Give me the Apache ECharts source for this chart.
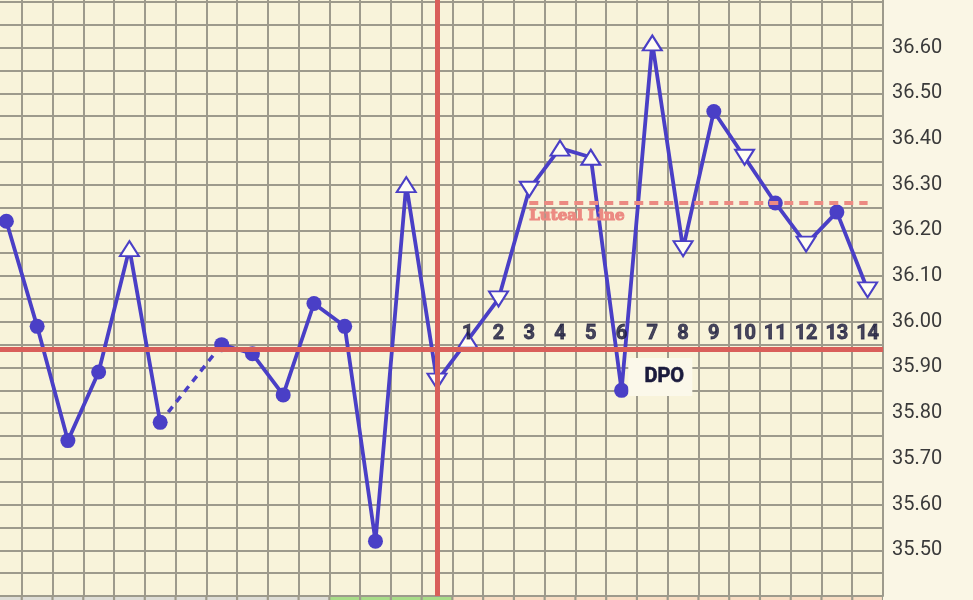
<!DOCTYPE html>
<html>
<head>
<meta charset="utf-8">
<script src="https://cdn.jsdelivr.net/npm/echarts/dist/echarts.min.js"></script>
<style>
  html, body { margin: 0; padding: 0; background: #faf6e5; }
  #chart { width: 973px; height: 600px; }
</style>
</head>
<body>
<div id="chart"></div>
<script>
// ---- data ----
const days = ['15','16','17','18','19','20','21','22','23','24','25','26','27','28','29',
              '30','31','32','33','34','35','36','37','38','39','40','41','42','43'];
const temps = [36.22, 35.99, 35.74, 35.89, 36.16, 35.78, null, 35.95, 35.93, 35.84,
               36.04, 35.99, 35.52, 36.30, 35.87, 35.96, 36.05, 36.29, 36.38, 36.36,
               35.85, 36.61, 36.16, 36.46, 36.36, 36.26, 36.17, 36.24, 36.07];
const markers = ['dot','dot','dot','dot','up','dot',null,'dot','dot','dot',
                 'dot','dot','dot','up','down','up','down','down','up','up',
                 'dot','up','down','dot','down','dot','down','dot','down'];
const phases = ['none','none','none','none','none','none','none','none','none','none',
                'none','fertile','fertile','fertile','fertile','luteal','luteal','luteal','luteal','luteal',
                'luteal','luteal','luteal','luteal','luteal','luteal','luteal','luteal','luteal'];
const ovulationDay = 14;          // index into days
const coverline = 35.94;
const lutealLine = 36.26;
const lutealStart = 17, lutealEnd = 28;
const dpoLabels = ['1','2','3','4','5','6','7','8','9','10','11','12','13','14'];
const yTicksMin = 35.40, yTicksMax = 36.75, yStep = 0.05;

// ---- styles ----
const PURPLE = '#4a3fc6';
const RED = '#d95f5a';
const GRIDC = '#9d9a8c';
const phaseColors = { none: '#dddcd6', fertile: '#a8dc88', luteal: '#f8dcc2' };

const GL = -9, GR = 90;

const mainData = temps.map((v, i) => {
  if (v === null) return null;
  const m = markers[i];
  if (m === 'dot') {
    return { value: v, symbol: 'circle', symbolSize: 15,
             itemStyle: { color: PURPLE, borderColor: PURPLE, borderWidth: 0 } };
  }
  return { value: v, symbol: 'triangle', symbolSize: [19, 15],
           symbolRotate: m === 'down' ? 180 : 0,
           itemStyle: { color: '#fffdf3', borderColor: PURPLE, borderWidth: 2 } };
});

// dashed bridge over missing readings
const gapData = temps.map(() => null);
temps.forEach((v, i) => {
  if (v === null) {
    let a = i - 1, b = i + 1;
    while (a >= 0 && temps[a] === null) a--;
    while (b < temps.length && temps[b] === null) b++;
    if (a >= 0) gapData[a] = temps[a];
    if (b < temps.length) gapData[b] = temps[b];
  }
});

const dpoData = dpoLabels.map((t, k) => [ovulationDay + 1 + k, 35.974, t]);

const chart = echarts.init(document.getElementById('chart'), null, { renderer: 'canvas' });
chart.setOption({
  animation: false,
  backgroundColor: '#faf6e5',
  grid: [
    { left: GL, right: GR, top: -21, bottom: 4, show: true, outerBoundsMode: 'none',
      containLabel: false, backgroundColor: '#f8f3da', borderWidth: 0 },
    { left: GL, right: GR, top: 597, bottom: 0, show: true, outerBoundsMode: 'none',
      containLabel: false, backgroundColor: GRIDC, borderWidth: 0 }
  ],
  xAxis: [
    { type: 'category', data: days, gridIndex: 0, boundaryGap: true,
      axisLabel: { show: false }, axisTick: { show: false }, axisLine: { show: false },
      splitLine: { show: true, interval: 0, lineStyle: { color: GRIDC, width: 2 } } },
    { type: 'category', data: days, gridIndex: 1, boundaryGap: true,
      axisLabel: { show: false }, axisTick: { show: false }, axisLine: { show: false },
      splitLine: { show: false } }
  ],
  yAxis: [
    { type: 'value', gridIndex: 0, position: 'right', min: yTicksMin, max: yTicksMax,
      interval: yStep,
      axisLine: { show: true, lineStyle: { color: GRIDC, width: 2 } },
      axisTick: { show: false },
      splitLine: { show: true, lineStyle: { color: GRIDC, width: 2 } },
      axisLabel: {
        margin: 9, fontSize: 20, color: '#3a3a3a', fontFamily: 'Roboto',
        formatter: function (v) {
          const r = Math.round(v * 100);
          if (r % 10 !== 0 || r > 3660 || r < 3550) return '';
          return (r / 100).toFixed(2);
        }
      } },
    { type: 'value', gridIndex: 1, min: 0, max: 1, show: false }
  ],
  series: [
    { // coverline + luteal line (below the temperature line)
      type: 'line', xAxisIndex: 0, yAxisIndex: 0, data: [], z: 1, silent: true,
      markLine: {
        silent: true, symbol: 'none', animation: false,
        data: [
          { yAxis: coverline, lineStyle: { color: RED, width: 5, type: 'solid' },
            label: { show: false } },
          [ { coord: [days[lutealStart], lutealLine] },
            { coord: [days[lutealEnd], lutealLine],
              lineStyle: { color: '#ec8a82', width: 4, type: [9, 6] },
              label: { show: true, position: 'insideStartBottom', formatter: 'Luteal Line',
                       distance: [0, 6],
                       color: '#ec8a82', fontSize: 15, fontWeight: 'bold',
                       fontFamily: 'DejaVu Serif',
                       textBorderColor: '#ec8a82', textBorderWidth: 1.2 } } ]
        ]
      }
    },
    { // dashed bridge
      type: 'line', xAxisIndex: 0, yAxisIndex: 0, data: gapData, z: 2,
      showSymbol: false, connectNulls: true,
      lineStyle: { color: PURPLE, width: 3.5, type: [7, 6] }
    },
    { // temperatures
      type: 'line', xAxisIndex: 0, yAxisIndex: 0, data: mainData, z: 3,
      connectNulls: false, showAllSymbol: true,
      lineStyle: { color: PURPLE, width: 3.8 }
    },
    { // ovulation line
      type: 'line', xAxisIndex: 0, yAxisIndex: 0, data: [], z: 4, silent: true,
      markLine: {
        silent: true, symbol: 'none', animation: false,
        data: [ { xAxis: days[ovulationDay] } ],
        lineStyle: { color: RED, width: 5, type: 'solid' },
        label: { show: false }
      }
    },
    { // DPO numbers
      type: 'scatter', xAxisIndex: 0, yAxisIndex: 0, z: 5, symbolSize: 0,
      data: dpoData,
      label: { show: true, position: 'inside', formatter: p => p.data[2],
               fontSize: 20, fontWeight: 'bold', color: '#1a1a3c', fontFamily: 'Roboto',
               textBorderColor: '#1a1a3c', textBorderWidth: 0.8 },
      markPoint: {
        silent: true, animation: false,
        data: [ { coord: [days[ovulationDay + 7], 35.879], symbol: 'rect',
                  symbolSize: [64, 38], symbolOffset: [8, 0],
                  itemStyle: { color: '#fbf8ea' },
                  label: { show: true, formatter: 'DPO', position: 'inside', offset: [4, 0],
                           fontSize: 20, fontWeight: 'bold', color: '#1a1a3c',
                           fontFamily: 'Roboto',
                           textBorderColor: '#1a1a3c', textBorderWidth: 0.6 } } ]
      }
    },
    { // phase strip
      type: 'bar', xAxisIndex: 1, yAxisIndex: 1, barCategoryGap: '7%', silent: true,
      data: phases.map(p => ({ value: 1, itemStyle: { color: phaseColors[p] } }))
    }
  ]
});
</script>
</body>
</html>
